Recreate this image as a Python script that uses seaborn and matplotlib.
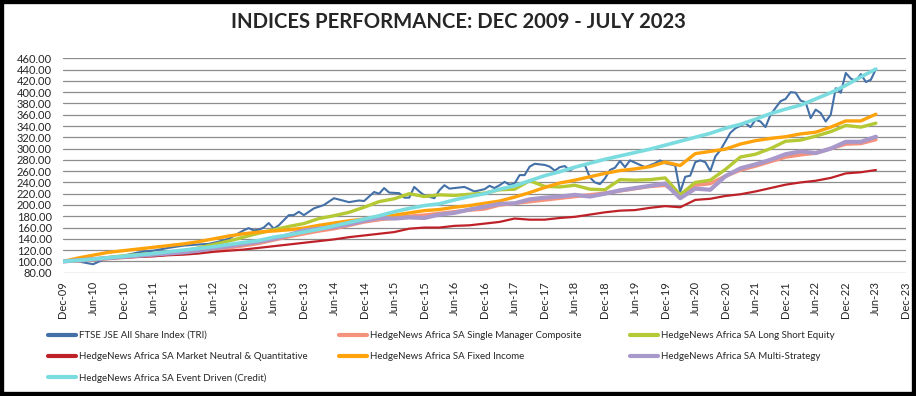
import matplotlib
matplotlib.use("Agg")
import matplotlib.pyplot as plt
import seaborn as sns
from matplotlib.patches import Rectangle

# months since Dec-09 (quarterly readings)
quarters = [0, 3, 6, 9, 12, 15, 18, 21, 24, 27, 30, 33, 36, 39, 42, 45, 48, 51, 54,
            57, 60, 63, 66, 69, 72, 75, 78, 81, 84, 87, 90, 93, 96, 99, 102, 105, 108,
            111, 114, 117, 120, 123, 126, 129, 132, 135, 138, 141, 144, 147, 150, 153,
            156, 159, 162]

# FTSE JSE read at its turning points
jse_months = [0, 3, 6, 8, 12, 15, 18, 21, 24, 27, 29, 31, 33, 35, 36, 37, 38, 39, 40,
              41, 42, 43, 45, 46, 47, 48, 50, 52, 54, 57, 59, 60, 62, 63, 64, 65, 67,
              68, 69, 70, 71, 72, 74, 75, 76, 77, 80, 82, 84, 85, 86, 87, 88, 89, 90,
              91, 92, 93, 94, 95, 96, 97, 98, 99, 100, 101, 102, 103, 104, 105, 106,
              107, 108, 109, 110, 111, 112, 113, 115, 116, 118, 119, 120, 121, 122,
              123, 124, 125, 126, 127, 128, 129, 130, 131, 133, 134, 136, 137, 138,
              139, 140, 141, 143, 144, 145, 146, 147, 148, 149, 150, 151, 152, 153,
              154, 155, 156, 157, 158, 159, 160, 161, 162]
jse = [100, 100, 95, 103, 110, 116, 119, 124, 128, 130, 131, 135, 140, 150, 155, 159,
       155, 156, 160, 168, 158, 164, 182, 182, 188, 182, 194, 200, 212, 205, 208, 207,
       223, 220, 230, 222, 221, 213, 213, 232, 224, 217, 212, 226, 235, 229, 232, 224,
       228, 234, 230, 235, 241, 236, 238, 253, 253, 268, 273, 272, 271, 268, 261, 267,
       269, 261, 267, 269, 271, 249, 240, 237, 247, 262, 266, 278, 267, 279, 271, 267,
       274, 279, 274, 272, 270, 223, 250, 252, 276, 279, 276, 260, 286, 297, 328, 336,
       345, 338, 351, 348, 338, 360, 384, 388, 400, 399, 385, 382, 354, 369, 363, 348,
       360, 407, 399, 434, 424, 420, 432, 418, 422, 441]

single_manager = [100, 101, 103, 105, 107, 109, 111, 113, 115, 117, 120, 124, 128, 132,
                  138, 144, 149, 154, 158, 164, 170, 174, 177, 180, 182, 185, 188, 191,
                  193, 200, 203, 206, 209, 212, 215, 218, 221, 225, 229, 233, 235, 218,
                  235, 238, 251, 262, 269, 277, 285, 289, 292, 300, 308, 309, 316]
long_short = [100, 102, 104, 107, 110, 112, 114, 116, 118, 124, 130, 136, 143, 150, 156,
              162, 167, 176, 181, 187, 196, 206, 211, 220, 215, 218, 217, 219, 221, 227,
              228, 243, 233, 232, 235, 228, 227, 245, 244, 245, 248, 218, 240, 244, 263,
              285, 290, 300, 313, 315, 322, 330, 341, 338, 345]
market_neutral = [100, 102, 103.5, 105, 107, 108, 109, 111, 112, 114, 117, 119, 121, 124,
                  127, 130, 133, 136, 139, 143, 146, 149, 152, 158, 160, 160, 163, 164,
                  167, 170, 176, 174, 174, 177, 179, 183, 187, 190, 191, 195, 198, 196,
                  209, 211, 216, 219, 224, 230, 236, 240, 243, 248, 256, 258, 262]
fixed_income = [100, 106, 111, 116, 119, 122, 125, 128, 131, 135, 140, 145, 149, 152, 154,
                156, 159, 164, 168, 172, 175, 180, 182, 186, 190, 192, 196, 199, 203, 207,
                214, 222, 231, 239, 244, 250, 256, 261, 264, 268, 276, 270, 291, 295, 299,
                308, 314, 318, 321, 326, 329, 338, 349, 349, 361]
multi_strategy = [100, 102, 104, 106, 108, 110, 112, 114, 116, 119, 123, 127, 131, 135,
                  140, 147, 155, 158, 161, 166, 172, 177, 176, 178, 177, 183, 186, 192,
                  197, 202, 203, 210, 213, 215, 218, 215, 220, 226, 230, 234, 238, 212,
                  229, 227, 251, 265, 272, 280, 290, 295, 292, 300, 312, 312, 321]
event_driven = [100, 102, 104, 106.5, 109, 111.5, 114, 117, 120, 123, 126, 130, 133.5,
                137, 143, 147, 152, 157, 163, 169, 175, 181, 188, 194, 199, 202, 209, 215,
                220, 228, 234, 243, 252, 259, 267, 274, 281, 287, 293, 299, 306, 313, 320,
                327, 336, 343, 352, 362, 370, 377, 388, 399, 412, 427, 441]

tick_labels = ["Dec-09", "Jun-10", "Dec-10", "Jun-11", "Dec-11", "Jun-12", "Dec-12",
               "Jun-13", "Dec-13", "Jun-14", "Dec-14", "Jun-15", "Dec-15", "Jun-16",
               "Dec-16", "Jun-17", "Dec-17", "Jun-18", "Dec-18", "Jun-19", "Dec-19",
               "Jun-20", "Dec-20", "Jun-21", "Dec-21", "Jun-22", "Dec-22", "Jun-23",
               "Dec-23"]

sns.set_style("white")
plt.rcParams['font.family'] = ['Lato', 'DejaVu Sans']

fig = plt.figure(figsize=(9.16, 3.96), dpi=100)
ax = fig.add_axes([63 / 916, 1 - 272.7 / 396, (906 - 63) / 916, (272.7 - 58.3) / 396])

series = [
    ("FTSE JSE All Share Index (TRI)", jse_months, jse, "#4470A8", 1.5),
    ("HedgeNews Africa SA Single Manager Composite", quarters, single_manager, "#F4927E", 2.6),
    ("HedgeNews Africa SA Long Short Equity", quarters, long_short, "#B5C934", 2.4),
    ("HedgeNews Africa SA Market Neutral & Quantitative", quarters, market_neutral, "#BE2228", 1.6),
    ("HedgeNews Africa SA Fixed Income", quarters, fixed_income, "#FFA30D", 2.4),
    ("HedgeNews Africa SA Multi-Strategy", quarters, multi_strategy, "#A999CA", 3.0),
    ("HedgeNews Africa SA Event Driven (Credit)", quarters, event_driven, "#7BDCE0", 2.6),
]

handles = []
for name, xs, ys, col, lw in series:
    sns.lineplot(x=xs, y=ys, ax=ax, color=col, linewidth=lw, sort=False, legend=False)
    handles.append(ax.get_lines()[-1])

ax.set_xlim(0, 168)
ax.set_ylim(80, 460)
ax.set_yticks(range(80, 461, 20))
ax.set_yticklabels([f"{v:.2f}" for v in range(80, 461, 20)], fontsize=8)
ax.set_xticks(range(0, 169, 6))
ax.set_xticklabels(tick_labels, rotation=90, fontsize=8)
ax.tick_params(axis='x', length=0, pad=6)
ax.tick_params(axis='y', length=0, pad=8)
ax.grid(axis='y', color='#8C8C8C', linewidth=0.9)
ax.set_axisbelow(True)
for s in ax.spines.values():
    s.set_visible(False)
ax.set_xlabel("")
ax.set_ylabel("")

fig.text(0.5, 1 - 22 / 396, "INDICES PERFORMANCE: DEC 2009 - JULY 2023",
         ha='center', va='center', fontsize=14.6, fontweight='bold')

# legend in three fixed columns, filled row by row like the original
cols = [([0, 3, 6], 48), ([1, 4], 339), ([2, 5], 630)]
for idx, xpix in cols:
    leg = fig.legend([handles[i] for i in idx], [series[i][0] for i in idx],
                     loc='upper left', bbox_to_anchor=(xpix / 916, 1 - 331 / 396),
                     frameon=False, fontsize=7, handlelength=2.9, handletextpad=0.3,
                     borderpad=0, borderaxespad=0, labelspacing=1.25)
    for l in leg.get_lines():
        l.set_linewidth(3)

fig.add_artist(Rectangle((0, 0), 1, 1, transform=fig.transFigure, fill=False,
                         edgecolor='black', linewidth=6))

fig.savefig("out.png", dpi=100)
